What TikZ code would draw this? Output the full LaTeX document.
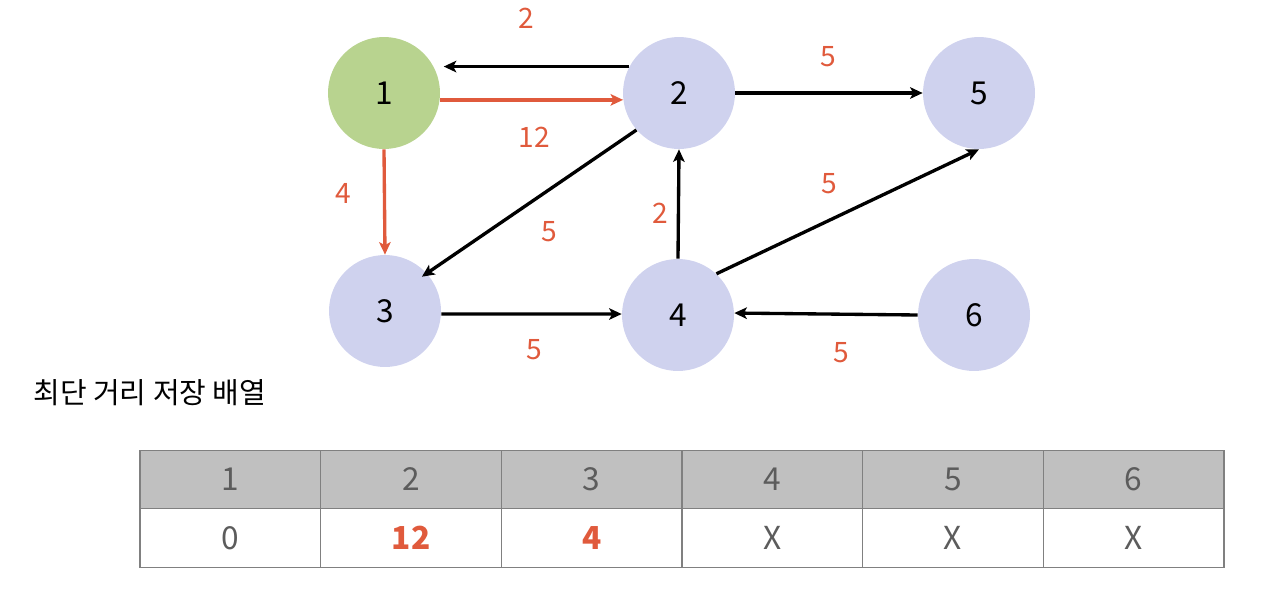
\documentclass[tikz,border=0pt]{standalone}
\usepackage{fontspec}
\setmainfont{Noto Sans CJK KR}
\usepackage{xcolor}
\usepackage{tikz}
\usetikzlibrary{arrows.meta}
\definecolor{greenx}{HTML}{B8D38F}
\definecolor{lavx}{HTML}{CFD2EE}
\definecolor{redx}{HTML}{E05A3C}
\definecolor{headbg}{HTML}{C0C0C0}
\definecolor{gridx}{HTML}{808080}
\definecolor{txtx}{HTML}{5C5C5C}
\tikzset{
  vx/.style={circle,fill=lavx,minimum size=2.24cm,inner sep=0pt,font=\fontsize{18}{20}\selectfont},
  vs/.style={vx,fill=greenx},
  ar/.style={-{Stealth[length=2.5mm,width=2.3mm,inset=0.6mm]},line width=1.9pt,black},
  arr/.style={ar,redx},
  wt/.style={text=redx,font=\fontsize{16}{18}\selectfont,inner sep=0pt},
  cellx/.style={draw=gridx,line width=0.7pt,minimum width=3.613cm,minimum height=1.17cm,inner sep=0pt,text=txtx,font=\fontsize{18}{20}\selectfont}
}
\begin{document}
\begin{tikzpicture}[x=0.02cm,y=-0.02cm]
\useasboundingbox (0,0) rectangle (1281,592);
% vertices
\node[vs] (n1) at (384,93) {1};
\node[vx] (n2) at (679,93) {2};
\node[vx] (n5) at (979,93) {5};
\node[vx] (n3) at (385,311) {3};
\node[vx] (n4) at (678,315) {4};
\node[vx] (n6) at (974,315) {6};
% edges
\draw[ar,shorten >=0.2cm] (n2.152) -- (n1.28);
\draw[arr] (n1.-7) -- (n2.187);
\draw[ar] (n2.0) -- (n5.180);
\draw[ar,shorten >=-0.12cm] (n2.221) -- (n3.42);
\draw[arr] (n1.south) -- (n3.north);
\draw[ar] (n4.north) -- (n2.south);
\draw[ar] (n4.47) -- (n5.south);
\draw[ar] (n3.-3) -- (n4.179);
\draw[ar] (n6.west) -- (n4.2);
% weights
\node[wt] (w21) at (526,18) {2};
\node[wt] (w12) at (534,137) {12};
\node[wt] (w25) at (828,57) {5};
\node[wt] (w23) at (549,232) {5};
\node[wt] (w13) at (343,193) {4};
\node[wt] (w42) at (660,213) {2};
\node[wt] (w45) at (829,184) {5};
\node[wt] (w34) at (534,350) {5};
\node[wt] (w64) at (841,353) {5};
% table
\node[anchor=west,inner sep=0pt,font=\fontsize{16.5}{18}\selectfont] (ttl) at (33,393) {최단 거리 저장 배열};
\foreach \i/\v/\c in {1/0/txtx,2/12/redx,3/4/redx,4/X/txtx,5/X/txtx,6/X/txtx}{
  \node[cellx,fill=headbg] (h\i) at ({140+(\i-0.5)*180.67},479.5) {\i};
  \node[cellx,text=\c] (d\i) at ({140+(\i-0.5)*180.67},538) {\ifnum\i<4 \ifnum\i>1 \bfseries\fi\fi\v};
}
\end{tikzpicture}
\end{document}
